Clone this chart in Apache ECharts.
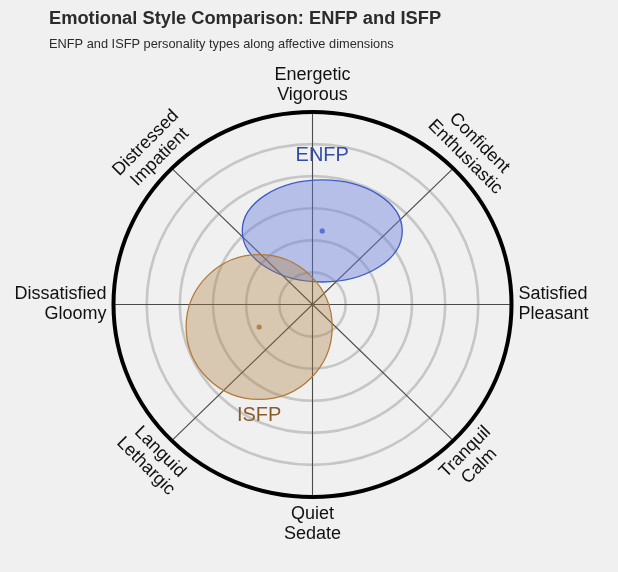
<!DOCTYPE html>
<html>
<head>
<meta charset="utf-8">
<script src="https://cdn.jsdelivr.net/npm/echarts@6/dist/echarts.min.js"></script>
<style>
html,body{margin:0;padding:0;background:#f0f0f0;}
#chart{width:618px;height:572px;}
</style>
</head>
<body>
<div id="chart"></div>
<script>
// ---- data ----
const axisNames = ['Satisfied\nPleasant','Confident\nEnthusiastic','Energetic\nVigorous','Distressed\nImpatient','Dissatisfied\nGloomy','Languid\nLethargic','Quiet\nSedate','Tranquil\nCalm'];
const axisAngles = [0, 45, 90, 135, 180, 225, 270, 315];
const ringRadii = [1/6, 2/6, 3/6, 4/6, 5/6];
const outerRadius = [1];
const types = ['ENFP', 'ISFP'];
const centerX = [0.049, -0.268];
const centerY = [0.382, -0.117];
const spreadX = [0.402, 0.367];
const spreadY = [0.265, 0.376];

// ---- styles ----
const fills = ['rgba(100,125,220,0.42)', 'rgba(175,125,60,0.35)'];
const strokes = ['#3a5cc8', '#b27a38'];
const dotColors = ['#5673d6', '#b5814e'];
const labelColors = ['#2f4ea6', '#8a5a2b'];
const FONT = '"Liberation Sans", Arial, sans-serif';

const chart = echarts.init(document.getElementById('chart'), null, {renderer: 'canvas'});

function ellipseItem(params, api, r, style) {
  const c = api.coord([0, 0]);
  const s = api.size([r, r]);
  return {type: 'ellipse', shape: {cx: c[0], cy: c[1], rx: s[0], ry: s[1]}, style: style, silent: true};
}

const option = {
  backgroundColor: '#f0f0f0',
  animation: false,
  title: [
    {text: 'Emotional Style Comparison: ENFP and ISFP', left: 49, top: 10, padding: 0,
     textStyle: {fontFamily: FONT, fontSize: 18.3, fontWeight: 'bold', color: '#2b2b2b'}},
    {text: 'ENFP and ISFP personality types along affective dimensions', left: 49, top: 38, padding: 0,
     textStyle: {fontFamily: FONT, fontSize: 12.8, fontWeight: 'normal', color: '#2b2b2b'}}
  ],
  grid: {left: 113.5, top: 112, width: 398, height: 385},
  xAxis: {type: 'value', min: -1, max: 1, show: false},
  yAxis: {type: 'value', min: -1, max: 1, show: false},
  series: [
    {
      type: 'custom', coordinateSystem: 'cartesian2d', data: ringRadii, z: 1, silent: true,
      renderItem: function (params, api) {
        return ellipseItem(params, api, ringRadii[params.dataIndex], {fill: 'none', stroke: '#c6c6c6', lineWidth: 2.6});
      }
    },
    {
      type: 'custom', coordinateSystem: 'cartesian2d', data: axisAngles, z: 2, silent: true,
      renderItem: function (params, api) {
        const a = axisAngles[params.dataIndex] * Math.PI / 180;
        const p0 = api.coord([0, 0]);
        const p1 = api.coord([Math.cos(a), Math.sin(a)]);
        return {type: 'line', shape: {x1: p0[0], y1: p0[1], x2: p1[0], y2: p1[1]}, style: {stroke: '#4a4a4a', lineWidth: 1.1}};
      }
    },
    {
      type: 'custom', coordinateSystem: 'cartesian2d', data: types, z: 3, silent: true,
      renderItem: function (params, api) {
        const i = params.dataIndex;
        const c = api.coord([centerX[i], centerY[i]]);
        const s = api.size([spreadX[i], spreadY[i]]);
        const top = api.coord([centerX[i], centerY[i] + spreadY[i]]);
        const bot = api.coord([centerX[i], centerY[i] - spreadY[i]]);
        const labelY = i === 0 ? top[1] - 24 : bot[1] + 16;
        return {
          type: 'group',
          children: [
            {type: 'ellipse', shape: {cx: c[0], cy: c[1], rx: s[0], ry: s[1]}, style: {fill: fills[i], stroke: strokes[i], lineWidth: 1.3}},
            {type: 'circle', shape: {cx: c[0], cy: c[1], r: 2.6}, style: {fill: dotColors[i]}},
            {type: 'text', x: c[0], y: labelY, style: {text: types[i], align: 'center', verticalAlign: 'middle', textAlign: 'center', textVerticalAlign: 'middle', font: '20px ' + FONT, fill: labelColors[i]}}
          ]
        };
      }
    },
    {
      type: 'custom', coordinateSystem: 'cartesian2d', data: outerRadius, z: 4, silent: true,
      renderItem: function (params, api) {
        return ellipseItem(params, api, 1, {fill: 'none', stroke: '#000000', lineWidth: 4});
      }
    },
    {
      type: 'custom', coordinateSystem: 'cartesian2d', data: axisNames, z: 5, silent: true,
      renderItem: function (params, api) {
        const i = params.dataIndex;
        const deg = axisAngles[i];
        const a = deg * Math.PI / 180;
        let r, align = 'center', rot = 0;
        if (deg === 0 || deg === 180) { r = 1.035; align = deg === 0 ? 'left' : 'right'; }
        else if (deg === 90 || deg === 270) { r = 1.142; }
        else { r = 1.135; rot = (deg === 135 || deg === 315) ? Math.PI / 4 : -Math.PI / 4; }
        const p = api.coord([r * Math.cos(a), r * Math.sin(a)]);
        return {
          type: 'text', x: p[0], y: p[1], rotation: rot,
          style: {text: axisNames[i], align: align, textAlign: align, verticalAlign: 'middle', textVerticalAlign: 'middle',
                  font: '18px ' + FONT, fill: '#111111', lineHeight: 20}
        };
      }
    }
  ]
};
chart.setOption(option);
</script>
</body>
</html>
